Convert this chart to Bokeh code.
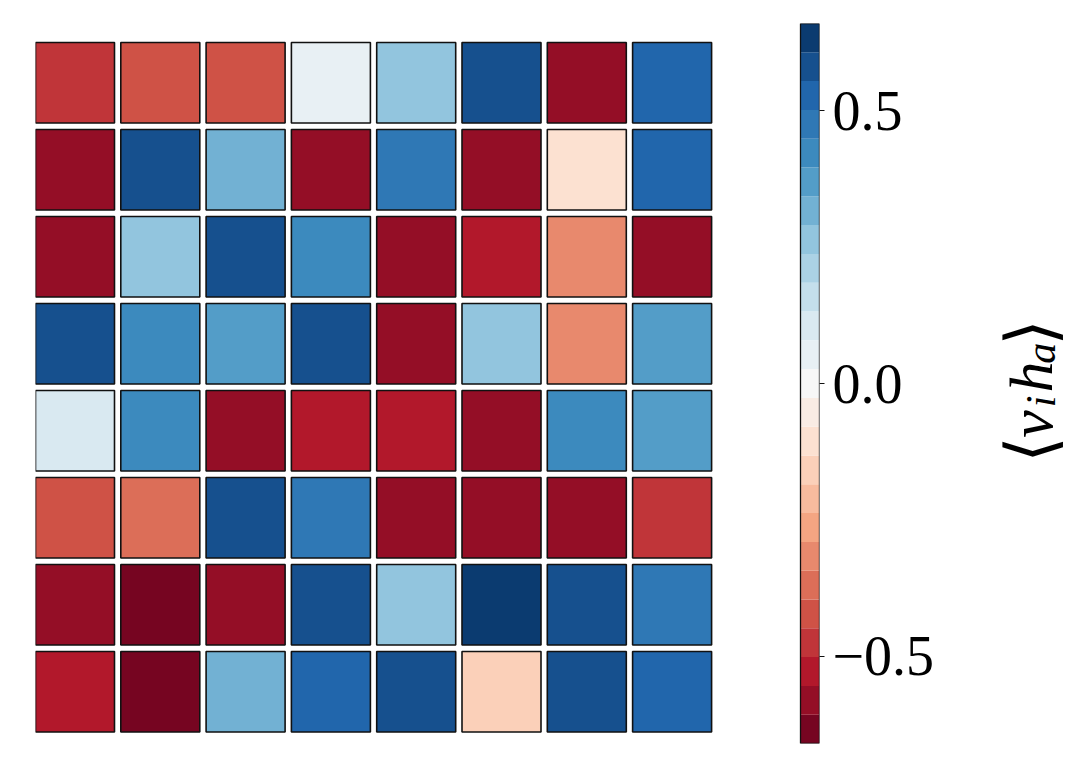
import math
from bokeh.plotting import figure
from bokeh.layouts import row
from bokeh.models import Range1d, LinearAxis, FixedTicker
from bokeh.core.properties import value
from bokeh.embed import file_html
from bokeh.resources import INLINE

# Mean correlation <v_i h_a> for each of the 8 x 8 hidden units (row-major, top row first)
rows = [0, 1, 2, 3, 4, 5, 6, 7]
cols = [0, 1, 2, 3, 4, 5, 6, 7]
row0 = [-0.50, -0.40, -0.43, 0.06, 0.24, 0.58, -0.57, 0.52]
row1 = [-0.60, 0.60, 0.30, -0.56, 0.47, -0.60, -0.12, 0.53]
row2 = [-0.60, 0.28, 0.59, 0.44, -0.60, -0.52, -0.30, -0.57]
row3 = [0.59, 0.40, 0.36, 0.59, -0.60, 0.24, -0.33, 0.36]
row4 = [0.12, 0.42, -0.56, -0.52, -0.52, -0.60, 0.43, 0.38]
row5 = [-0.40, -0.36, 0.60, 0.50, -0.59, -0.57, -0.59, -0.47]
row6 = [-0.60, -0.62, -0.60, 0.56, 0.27, 0.63, 0.58, 0.50]
row7 = [-0.52, -0.62, 0.32, 0.52, 0.57, -0.18, 0.60, 0.52]
grid = [row0, row1, row2, row3, row4, row5, row6, row7]

# Colour scale limits, number of filled levels and tick values
vmin, vmax = -0.66, 0.66
n_levels = 25
cbar_ticks = [-0.5, 0.0, 0.5]
cbar_tick_labels = ["\u22120.5", "0.0", "0.5"]

# RdBu diverging anchors (low = red, high = blue)
rdbu = ["#67001f", "#b2182b", "#d6604d", "#f4a582", "#fddbc7", "#f7f7f7",
        "#d1e5f0", "#92c5de", "#4393c3", "#2166ac", "#053061"]


def hex_to_rgb(h):
    return tuple(int(h[i:i + 2], 16) for i in (1, 3, 5))


def cmap(t):
    t = min(max(t, 0.0), 1.0)
    pos = t * (len(rdbu) - 1)
    i = min(int(pos), len(rdbu) - 2)
    f = pos - i
    a, b = hex_to_rgb(rdbu[i]), hex_to_rgb(rdbu[i + 1])
    c = [round(a[k] + (b[k] - a[k]) * f) for k in range(3)]
    return "#%02x%02x%02x" % tuple(c)


step = (vmax - vmin) / n_levels
level_lo = [vmin + k * step for k in range(n_levels)]
level_hi = [vmin + (k + 1) * step for k in range(n_levels)]
level_col = [cmap((lo + step / 2 - vmin) / (vmax - vmin)) for lo in level_lo]


def level_color(v):
    k = int((v - vmin) / step)
    k = min(max(k, 0), n_levels - 1)
    return level_col[k]


H = 764
W1, W2 = 960, 128
f_left, f_right, f_top, f_bottom = 35, 819, 23, 743
pitch_x, pitch_y = 85.3, 87.0
tile_w, tile_h = 79.0 / pitch_x, 80.5 / pitch_y

x_end = (f_right - f_left) / pitch_x
y_top = 8 + (42 - f_top) / pitch_y
y_bot = y_top - (f_bottom - f_top) / pitch_y

p = figure(width=W1, height=H, output_backend="svg", toolbar_location=None,
           x_range=Range1d(0, x_end), y_range=Range1d(y_bot, y_top),
           min_border_left=f_left, min_border_right=W1 - f_right,
           min_border_top=f_top, min_border_bottom=H - f_bottom)
p.axis.visible = False
p.grid.visible = False
p.outline_line_color = None
p.background_fill_color = "white"
p.border_fill_color = "white"

# tiles
tx, ty, tc = [], [], []
for r in rows:
    for c in cols:
        tx.append(c + tile_w / 2)
        ty.append(8 - r - tile_h / 2)
        tc.append(level_color(grid[r][c]))
p.rect(x=tx, y=ty, width=tile_w, height=tile_h, fill_color=tc,
       line_color="#111111", line_width=1.6)

# colour bar
p.extra_y_ranges = {"cbar": Range1d(vmin, vmax)}
cb_left = (800 - f_left) / pitch_x
p.quad(left=cb_left, right=x_end, bottom=level_lo, top=level_hi,
       fill_color=level_col, line_color=None, y_range_name="cbar")
p.quad(left=cb_left, right=x_end, bottom=vmin, top=vmax, fill_color=None,
       line_color="#111111", line_width=1.3, y_range_name="cbar")

ax = LinearAxis(y_range_name="cbar")
ax.ticker = FixedTicker(ticks=cbar_ticks)
ax.major_label_overrides = dict(zip(cbar_ticks, cbar_tick_labels))
ax.axis_line_color = None
ax.major_tick_in = 0
ax.major_tick_out = 5
ax.major_tick_line_color = "#111111"
ax.minor_tick_line_color = None
ax.major_label_standoff = 8
ax.major_label_text_font = "Liberation Serif"
ax.major_label_text_font_size = "56px"
ax.major_label_text_color = "black"
p.add_layout(ax, "right")

# colour bar title  <v_i h_a>  set vertically, reading bottom to top
q = figure(width=W2, height=H, output_backend="svg", toolbar_location=None,
           x_range=Range1d(960, 960 + W2), y_range=Range1d(H, 0),
           min_border_left=0, min_border_right=0, min_border_top=0,
           min_border_bottom=0)
q.axis.visible = False
q.grid.visible = False
q.outline_line_color = None
q.background_fill_color = "white"
q.border_fill_color = "white"

rot = math.pi / 2
title_parts = [
    ("\u27e8", 1030, 452, "DejaVu Serif", "normal", "68px"),
    ("v", 1030, 425, "Liberation Serif", "italic", "62px"),
    ("i", 1040, 401, "Liberation Serif", "italic", "42px"),
    ("h", 1030, 375, "Liberation Serif", "italic", "62px"),
    ("a", 1040, 350, "Liberation Serif", "italic", "42px"),
    ("\u27e9", 1030, 328, "DejaVu Serif", "normal", "68px"),
]
for txt, lx, ly, font, style, size in title_parts:
    q.text(x=[lx], y=[ly], text=[txt], angle=rot, text_align="center",
           text_baseline="alphabetic", text_font=value(font),
           text_font_style=style, text_font_size=size, text_color="black")

layout = row(p, q)
open("out.html", "w").write(file_html(layout, INLINE))
